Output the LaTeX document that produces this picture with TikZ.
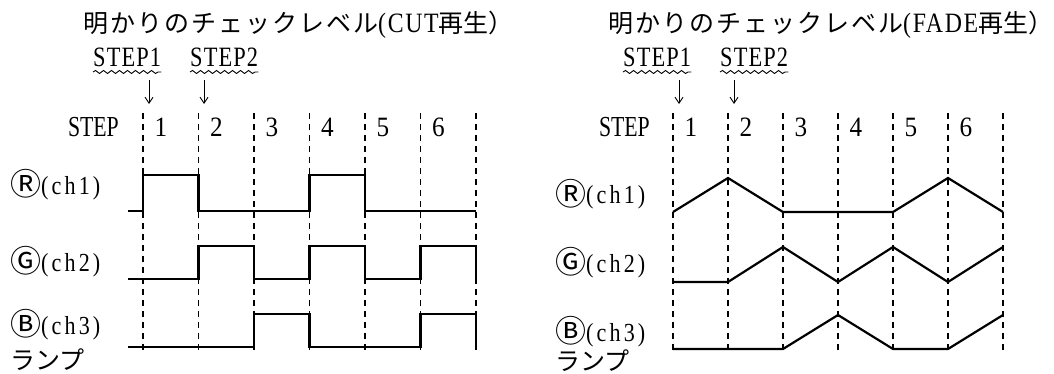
\documentclass[tikz,border=0pt]{standalone}
\usepackage{fontspec}
\setmainfont{Liberation Serif}[FakeStretch=0.75]
\newfontfamily\jpfont{Noto Sans CJK JP}
\newfontfamily\jpwide{Noto Sans CJK JP}[LetterSpace=8]
\newfontfamily\ttlfont{Liberation Serif}[FakeStretch=0.85,LetterSpace=6]
\newfontfamily\latwide{Liberation Serif}[FakeStretch=0.8,LetterSpace=4]
\newfontfamily\numfont{Liberation Serif}[FakeStretch=0.9]
\newfontfamily\chfont{Liberation Serif}[FakeStretch=0.85,LetterSpace=12]
\newcommand\encl[1]{{\fontsize{31}{31}\selectfont\raisebox{-1.5pt}{#1}}}
\usetikzlibrary{positioning,arrows.meta,decorations.pathmorphing}

\begin{document}
\begin{tikzpicture}[x=1pt,y=-1pt,
				ttl/.style={anchor=base west, inner sep=0pt, font=\fontsize{25}{30}\selectfont},
				steplbl/.style={anchor=base west, inner sep=0pt, font=\fontsize{28}{30}\latwide},
				rowlbl/.style={anchor=base east, inner sep=0pt, font=\fontsize{29}{30}\selectfont},
				num/.style={anchor=base, inner sep=0pt, font=\fontsize{28}{30}\numfont},
				chlbl/.style={anchor=base west, inner sep=0pt, font=\fontsize{25}{30}\jpfont},
				wav/.style={decorate, decoration={snake, amplitude=1.5pt, segment length=8pt}, line width=0.9pt},
				ar/.style={-{Straight Barb[length=6pt,width=8pt]}, line width=0.9pt},
				divline/.style={line width=1.2pt, dash pattern=on 6pt off 5pt},
				sig/.style={line width=2.2pt},
			]
			\useasboundingbox (0,0) rectangle (1054,374);
			\node[ttl] (ttlL) at (83,33) {{\jpwide 明かりのチェックレベル}{\fontsize{28}{30}\ttlfont(CUT}{\jpfont 再生）}};
			\node[steplbl] (s1L) at (93,67) {STEP1};
			\node[steplbl] (s2L) at (190,67) {STEP2};
			\draw[wav] ([yshift=-5pt]s1L.base west) -- ([yshift=-5pt]s1L.base east);
			\draw[wav] ([yshift=-5pt]s2L.base west) -- ([yshift=-5pt]s2L.base east);
			\coordinate (a1L) at (149,104);
			\coordinate (a2L) at (204,104);
			\draw[ar] (s1L.south -| a1L) ++(0,13) -- (a1L);
			\draw[ar] (s2L.south -| a2L) ++(0,13) -- (a2L);
			\node[rowlbl] (rowL) at (119,137) {STEP};
			\node[num] (nL1) at (161,137) {1};
			\node[num] (nL2) at (216.5,137) {2};
			\node[num] (nL3) at (272,137) {3};
			\node[num] (nL4) at (327.5,137) {4};
			\node[num] (nL5) at (383,137) {5};
			\node[num] (nL6) at (438.5,137) {6};
			\draw[divline] (143,113) -- (143,350);
			\draw[divline] (198.5,113) -- (198.5,350);
			\draw[divline] (254,113) -- (254,350);
			\draw[divline] (309.5,113) -- (309.5,350);
			\draw[divline] (365,113) -- (365,350);
			\draw[divline] (420.5,113) -- (420.5,350);
			\draw[divline] (476,113) -- (476,350);
			\node[chlbl] (rL) at (10,194) {\encl{Ⓡ}{\fontsize{26}{30}\chfont(ch1)}};
			\node[chlbl] (gL) at (10,271) {\encl{Ⓖ}{\fontsize{26}{30}\chfont(ch2)}};
			\node[chlbl] (bL) at (10,334) {\encl{Ⓑ}{\fontsize{26}{30}\chfont(ch3)}};
			\node[chlbl] (lampL) at (10,369) {ランプ};
			\draw[sig] (128,211) -- (143,211) -- (143,175) -- (198.5,175) -- (198.5,211)
			-- (309.5,211) -- (309.5,175) -- (365,175) -- (365,211) -- (476,211);
			\draw[sig] (128,279) -- (198.5,279) -- (198.5,246) -- (254,246) -- (254,279)
			-- (309.5,279) -- (309.5,246) -- (365,246) -- (365,279) -- (420.5,279)
			-- (420.5,246) -- (476,246) -- (476,279);
			\draw[sig] (128,347) -- (254,347) -- (254,314) -- (309.5,314) -- (309.5,347)
			-- (420.5,347) -- (420.5,314) -- (476,314) -- (476,347);
			\node[ttl] (ttlR) at (608,33) {{\jpwide 明かりのチェックレベル}{\fontsize{28}{30}\ttlfont(FADE}{\jpfont 再生）}};
			\node[steplbl] (s1R) at (623,67) {STEP1};
			\node[steplbl] (s2R) at (720,67) {STEP2};
			\draw[wav] ([yshift=-5pt]s1R.base west) -- ([yshift=-5pt]s1R.base east);
			\draw[wav] ([yshift=-5pt]s2R.base west) -- ([yshift=-5pt]s2R.base east);
			\coordinate (a1R) at (679,104);
			\coordinate (a2R) at (734,104);
			\draw[ar] (s1R.south -| a1R) ++(0,13) -- (a1R);
			\draw[ar] (s2R.south -| a2R) ++(0,13) -- (a2R);
			\node[rowlbl] (rowR) at (650,137) {STEP};
			\node[num] (nR1) at (691,137) {1};
			\node[num] (nR2) at (746,137) {2};
			\node[num] (nR3) at (801,137) {3};
			\node[num] (nR4) at (856,137) {4};
			\node[num] (nR5) at (911,137) {5};
			\node[num] (nR6) at (966,137) {6};
			\draw[divline] (673,113) -- (673,352);
			\draw[divline] (728,113) -- (728,352);
			\draw[divline] (783,113) -- (783,352);
			\draw[divline] (838,113) -- (838,352);
			\draw[divline] (893,113) -- (893,352);
			\draw[divline] (948,113) -- (948,352);
			\draw[divline] (1003,113) -- (1003,352);
			\node[chlbl] (rR) at (555,204) {\encl{Ⓡ}{\fontsize{26}{30}\chfont(ch1)}};
			\node[chlbl] (gR) at (555,272) {\encl{Ⓖ}{\fontsize{26}{30}\chfont(ch2)}};
			\node[chlbl] (bR) at (555,341) {\encl{Ⓑ}{\fontsize{26}{30}\chfont(ch3)}};
			\node[chlbl] (lampR) at (555,370) {ランプ};
			\draw[sig] (673,212) -- (728,178) -- (783,212) -- (893,212) -- (948,178) -- (1003,212);
			\draw[sig] (673,282) -- (728,282) -- (783,247) -- (838,282) -- (893,247) -- (948,282) -- (1003,247);
			\draw[sig] (673,349) -- (783,349) -- (838,315) -- (893,349) -- (948,349) -- (1003,315);
		\end{tikzpicture}
\end{document}
